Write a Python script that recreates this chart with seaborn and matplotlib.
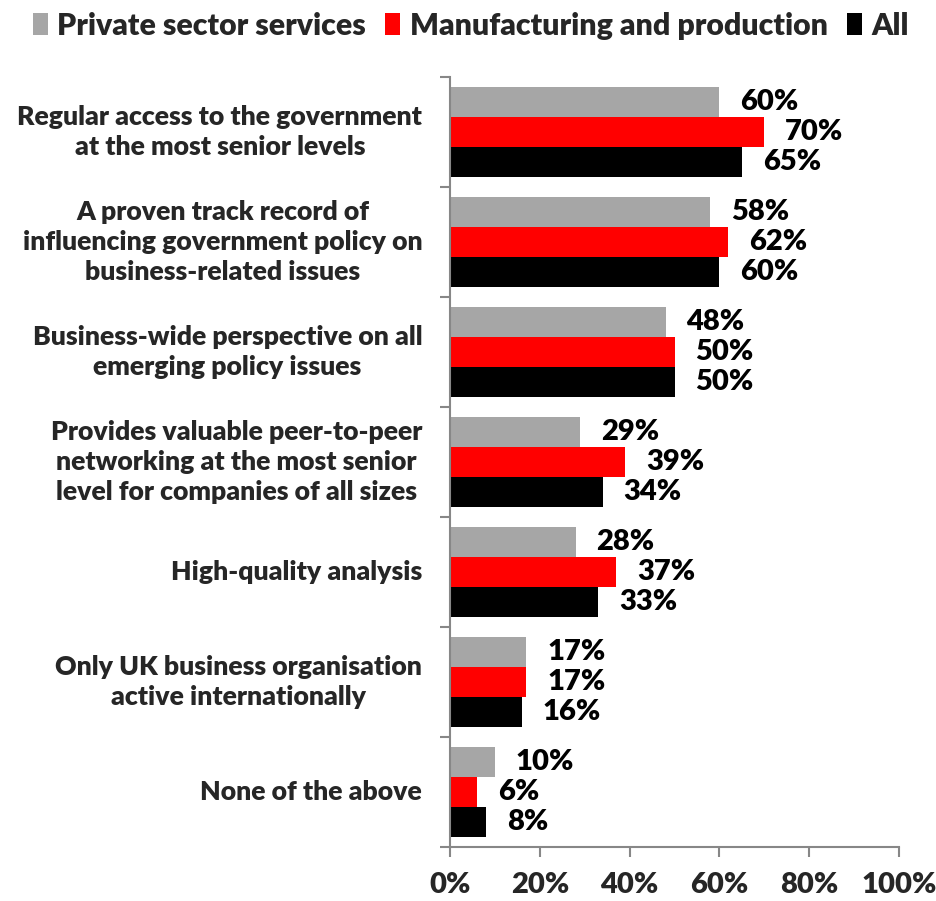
import matplotlib
matplotlib.use("Agg")
import matplotlib.pyplot as plt
import seaborn as sns
import pandas as pd
from matplotlib.ticker import FixedLocator

sns.set_theme(style="white")
plt.rcParams["font.family"] = ["Lato", "DejaVu Sans"]
WEIGHT = "heavy"
plt.rcParams["font.weight"] = WEIGHT

categories = [
    "Regular access to the government\nat the most senior levels",
    "A proven track record of\ninfluencing government policy on\nbusiness-related issues",
    "Business-wide perspective on all\nemerging policy issues",
    "Provides valuable peer-to-peer\nnetworking at the most senior\nlevel for companies of all sizes",
    "High-quality analysis",
    "Only UK business organisation\nactive internationally",
    "None of the above",
]
series = ["Private sector services", "Manufacturing and production", "All"]
private_services = [60, 58, 48, 29, 28, 17, 10]
manufacturing = [70, 62, 50, 39, 37, 17, 6]
all_firms = [65, 60, 50, 34, 33, 16, 8]
x_ticks = [0, 20, 40, 60, 80, 100]
x_tick_labels = ["0%", "20%", "40%", "60%", "80%", "100%"]
colors = ["#A6A6A6", "#FF0000", "#000000"]

rows = []
for name, vals in zip(series, [private_services, manufacturing, all_firms]):
    for cat, v in zip(categories, vals):
        rows.append({"category": cat, "series": name, "value": v})
df = pd.DataFrame(rows)

fig = plt.figure(figsize=(9.36, 9.01), dpi=100)
ax = fig.add_axes([450 / 936, 1 - 847 / 901, 449 / 936, 770 / 901])

sns.barplot(data=df, x="value", y="category", hue="series", orient="h",
            palette=colors, saturation=1, width=0.82, gap=0, linewidth=0,
            ax=ax, order=categories, hue_order=series, legend=True)

for cont, vals in zip(ax.containers, [private_services, manufacturing, all_firms]):
    ax.bar_label(cont, labels=[f"{v}%" for v in vals], padding=15,
                 fontsize=21, fontweight=WEIGHT, color="black")

ax.set_xlim(0, 100)
ax.set_ylim(6.5, -0.5)
ax.set_xticks(x_ticks)
ax.set_xticklabels(x_tick_labels, fontsize=21, fontweight=WEIGHT)
ax.set_xlabel("")
ax.set_ylabel("")
ax.tick_params(axis="x", which="major", direction="out", length=7, width=1.5,
               color="#878787", pad=11, bottom=True)
ax.set_yticks(range(len(categories)))
ax.set_yticklabels(categories, fontsize=19.2, fontweight=WEIGHT,
                   multialignment="center", linespacing=1.3, va="center")
ax.tick_params(axis="y", which="major", length=0, pad=20, left=False)
ax.yaxis.set_minor_locator(FixedLocator([i - 0.5 for i in range(len(categories) + 1)]))
ax.tick_params(axis="y", which="minor", direction="out", length=7, width=1.5,
               color="#878787", left=True)

for side in ["top", "right"]:
    ax.spines[side].set_visible(False)
for side in ["left", "bottom"]:
    ax.spines[side].set_color("#878787")
    ax.spines[side].set_linewidth(1.5)
ax.grid(False)

handles, labels = ax.get_legend_handles_labels()
ax.legend_.remove()
fig.legend(handles, labels, loc="upper center", bbox_to_anchor=(0.503, 1.017),
           ncol=3, frameon=False, handlelength=0.5,
           handleheight=0.75, handletextpad=0.3, columnspacing=0.65,
           prop={"weight": WEIGHT, "size": 21.8})

fig.savefig("out.png", dpi=100)
